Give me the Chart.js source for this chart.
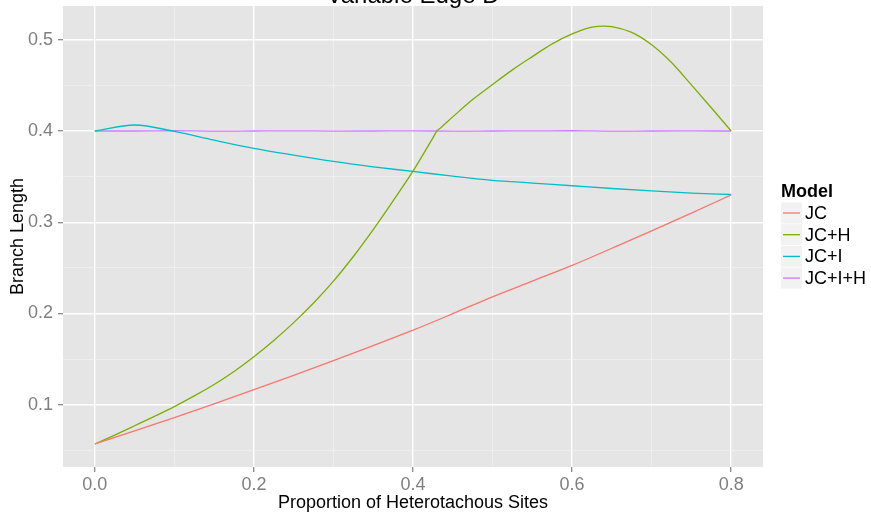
<!DOCTYPE html>
<html lang="en">
<head>
<meta charset="UTF-8">
<title>Variable Edge D</title>
<script src="https://cdn.jsdelivr.net/npm/chart.js"></script>
<style>
  body { margin: 0; background: #fff; }
  #wrap { width: 871px; height: 512px; position: relative; }
</style>
</head>
<body>
<div id="wrap"><canvas id="edgeChart"></canvas></div>
<script>
// proportion of heterotachous sites (shared x for JC, JC+I, JC+I+H)
const propX = [0, 0.05, 0.1, 0.15, 0.2, 0.25, 0.3, 0.35, 0.4, 0.45, 0.5, 0.55, 0.6, 0.65, 0.7, 0.75, 0.8];
const jcLen = [0.057, 0.0713, 0.086, 0.101, 0.1165, 0.1323, 0.1484, 0.1648, 0.1817, 0.1998, 0.2183, 0.2355, 0.2527, 0.2715, 0.2905, 0.310, 0.330];
const jciLen = [0.400, 0.4066, 0.3996, 0.390, 0.381, 0.3736, 0.3667, 0.3608, 0.3557, 0.3505, 0.346, 0.343, 0.340, 0.337, 0.3344, 0.332, 0.3304];
const jcihLen = [0.400, 0.4, 0.4003, 0.3998, 0.4, 0.4002, 0.3999, 0.4, 0.4002, 0.3998, 0.4, 0.4001, 0.4003, 0.3998, 0.4, 0.4001, 0.400];

// JC+H has a kink near 0.43, so it gets its own finer x
const jchX = [0, 0.025, 0.05, 0.075, 0.1, 0.125, 0.15, 0.175, 0.2, 0.225, 0.25, 0.275, 0.3, 0.325, 0.35, 0.375, 0.4, 0.425, 0.43, 0.435,
              0.45, 0.475, 0.5, 0.525, 0.55, 0.575, 0.6, 0.625, 0.64, 0.65, 0.675, 0.7, 0.725, 0.75, 0.775, 0.8];
const jchLen = [0.057, 0.0668, 0.077, 0.0873, 0.098, 0.1097, 0.1222, 0.1365, 0.1527, 0.1705, 0.190, 0.2115, 0.2355, 0.2625, 0.292, 0.3235, 0.356, 0.3925, 0.400, 0.4037,
                0.4155, 0.4345, 0.451, 0.467, 0.4815, 0.4955, 0.5065, 0.5139, 0.515, 0.5145, 0.508, 0.4945, 0.475, 0.4505, 0.4255, 0.400];

const modelNames = ["JC", "JC+H", "JC+I", "JC+I+H"];
const modelColors = ["#F8766D", "#7CAE00", "#00BFC4", "#C77CFF"];

const xTicks = [0, 0.1, 0.2, 0.3, 0.4, 0.5, 0.6, 0.7, 0.8];
const yTicks = [0.05, 0.1, 0.15, 0.2, 0.25, 0.3, 0.35, 0.4, 0.45, 0.5];
const xMajor = [0, 0.2, 0.4, 0.6, 0.8];
const yMajor = [0.1, 0.2, 0.3, 0.4, 0.5];

const FONT = "'Liberation Sans', Arial, Helvetica, sans-serif";

function pts(xs, ys) {
    return xs.map((x, i) => ({ x: x, y: ys[i] }));
}
function isMajor(list, v) {
    return list.some(m => Math.abs(m - v) < 1e-9);
}

// grey panel, title, axis titles and legend in ggplot style
const ggDecor = {
    id: "ggDecor",
    beforeDraw(chart) {
        const a = chart.chartArea;
        const ctx = chart.ctx;
        ctx.save();
        ctx.fillStyle = "#E5E5E5";
        ctx.fillRect(a.left, a.top, a.right - a.left, a.bottom - a.top);
        ctx.restore();
    },
    afterDraw(chart) {
        const a = chart.chartArea;
        const ctx = chart.ctx;
        const midX = (a.left + a.right) / 2;
        ctx.save();
        ctx.fillStyle = "#000";

        // title (mostly cut off at the top)
        ctx.font = "24px " + FONT;
        ctx.textAlign = "center";
        ctx.textBaseline = "alphabetic";
        ctx.fillText("Variable Edge D", midX, 3);

        // x title
        ctx.font = "18px " + FONT;
        ctx.fillText("Proportion of Heterotachous Sites", midX, 508);

        // y title
        ctx.save();
        ctx.translate(23, (a.top + a.bottom) / 2);
        ctx.rotate(-Math.PI / 2);
        ctx.fillText("Branch Length", 0, 0);
        ctx.restore();

        // legend
        ctx.textAlign = "left";
        ctx.font = "bold 18px " + FONT;
        ctx.fillText("Model", 781, 197);
        ctx.font = "18px " + FONT;
        ctx.textBaseline = "middle";
        chart.data.datasets.forEach((ds, i) => {
            const cy = 213 + i * 21.7;
            ctx.fillStyle = "#F2F2F2";
            ctx.fillRect(781, cy - 10.5, 21, 21);
            ctx.strokeStyle = ds.borderColor;
            ctx.lineWidth = 1.3;
            ctx.beginPath();
            ctx.moveTo(783, cy);
            ctx.lineTo(800, cy);
            ctx.stroke();
            ctx.fillStyle = "#000";
            ctx.fillText(ds.label, 805, cy + 1);
        });
        ctx.restore();
    }
};

const seriesData = [pts(propX, jcLen), pts(jchX, jchLen), pts(propX, jciLen), pts(propX, jcihLen)];

new Chart(document.getElementById("edgeChart"), {
    type: "line",
    data: {
        datasets: modelNames.map((name, i) => ({
            label: name,
            data: seriesData[i],
            borderColor: modelColors[i],
            backgroundColor: modelColors[i],
            borderWidth: 1.3,
            pointRadius: 0,
            fill: false,
            cubicInterpolationMode: "monotone"
        }))
    },
    options: {
        responsive: true,
        maintainAspectRatio: false,
        animation: false,
        layout: { padding: { top: 6, right: 108, left: 0, bottom: 0 } },
        plugins: {
            legend: { display: false },
            title: { display: false },
            tooltip: { enabled: false }
        },
        scales: {
            x: {
                type: "linear",
                min: -0.04,
                max: 0.84,
                afterBuildTicks(scale) { scale.ticks = xTicks.map(v => ({ value: v })); },
                afterFit(scale) {
                    scale.height = 45;
                    scale.paddingLeft = 0;
                    scale.paddingRight = 0;
                },
                border: { display: false },
                grid: {
                    color: c => isMajor(xMajor, c.tick.value) ? "#FFFFFF" : "#F2F2F2",
                    lineWidth: c => isMajor(xMajor, c.tick.value) ? 1.4 : 0.7,
                    tickColor: c => isMajor(xMajor, c.tick.value) ? "#7F7F7F" : "rgba(0,0,0,0)",
                    tickLength: 5,
                    tickWidth: 1.2
                },
                ticks: {
                    autoSkip: false,
                    maxRotation: 0,
                    padding: 2,
                    color: "#7F7F7F",
                    font: { family: FONT, size: 18 },
                    callback: v => isMajor(xMajor, v) ? v.toFixed(1) : ""
                }
            },
            y: {
                type: "linear",
                min: 0.0318,
                max: 0.537,
                afterBuildTicks(scale) { scale.ticks = yTicks.map(v => ({ value: v })); },
                afterFit(scale) {
                    scale.width = 63;
                    scale.paddingTop = 0;
                    scale.paddingBottom = 0;
                },
                border: { display: false },
                grid: {
                    color: c => isMajor(yMajor, c.tick.value) ? "#FFFFFF" : "#F2F2F2",
                    lineWidth: c => isMajor(yMajor, c.tick.value) ? 1.4 : 0.7,
                    tickColor: c => isMajor(yMajor, c.tick.value) ? "#7F7F7F" : "rgba(0,0,0,0)",
                    tickLength: 5,
                    tickWidth: 1.2
                },
                ticks: {
                    autoSkip: false,
                    padding: 5,
                    color: "#7F7F7F",
                    font: { family: FONT, size: 18 },
                    callback: v => isMajor(yMajor, v) ? v.toFixed(1) : ""
                }
            }
        }
    },
    plugins: [ggDecor]
});
</script>
</body>
</html>
